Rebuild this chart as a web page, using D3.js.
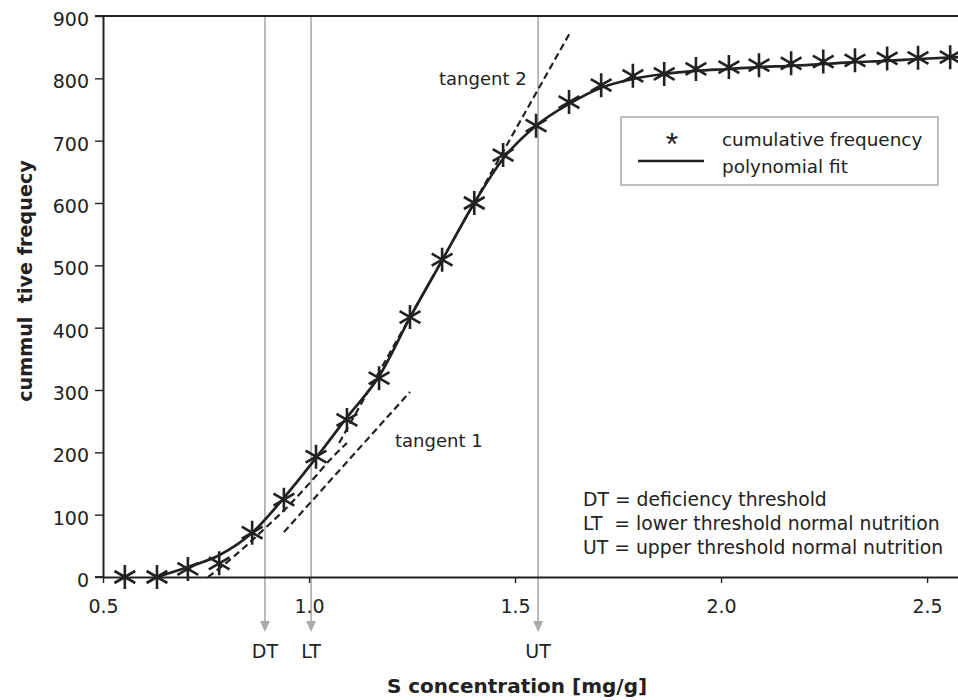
<!DOCTYPE html>
<html><head><meta charset="utf-8">
<script src="https://cdn.jsdelivr.net/npm/d3@7"></script>
<style>
body{margin:0;background:#fff;}
svg{display:block;font-family:"DejaVu Sans",sans-serif;}
</style></head>
<body><svg id="c" width="958" height="700"></svg>
<script>
// ---- data ----
const concX = [0.553,0.631,0.706,0.782,0.862,0.939,1.017,1.092,1.170,1.245,1.323,1.401,1.471,1.551,1.631,1.709,1.786,1.862,1.939,2.019,2.092,2.170,2.248,2.325,2.403,2.478,2.556];
const cumFreq = [0,0,13,22,71,124,193,252,319,417,509,600,677,724,762,789,804,807,815,818,821,824,827,829,832,833,834];
const fitX = [0.631,0.706,0.782,0.862,0.939,1.017,1.092,1.170,1.245,1.323,1.401,1.471,1.551,1.631,1.709,1.786,1.862,1.939,2.019,2.092,2.170,2.248,2.325,2.403,2.478,2.575];
const fitY = [0,16,35,71,127,191,256,322,416,508,600,671,724,759,785,799,807,812,815,818,820,823,826,828,831,834];
const tangent1 = [[0.939,72],[1.245,297]];
const tangent2 = [[1.073,215],[1.635,875]];
const lowerDashX = [0.755,0.816,0.888,0.947,1.002,1.051,1.092];
const lowerDashY = [0,32,75,112,151,188,215];
const thresholds = [{name:"DT",x:0.893},{name:"LT",x:1.005},{name:"UT",x:1.556}];
const yTicks = [0,100,200,300,400,500,600,700,800,900];
const xTicks = [0.5,1.0,1.5,2.0,2.5];
const legendItems = ["cumulative frequency","polynomial fit"];
const noteLines = ["DT = deficiency threshold","LT  = lower threshold normal nutrition","UT = upper threshold normal nutrition"];

const svg = d3.select("#c");
const ink = "#222";
const FONT = "DejaVu Sans, sans-serif";
const x = d3.scaleLinear().domain([0.5,2.575]).range([103,958]);
const y = d3.scaleLinear().domain([0,900]).range([577,16]);

// threshold lines with arrows
const thr = svg.append("g");
thresholds.forEach(t=>{
  const px = x(t.x);
  thr.append("line").attr("x1",px).attr("x2",px).attr("y1",y(900)).attr("y2",622)
    .attr("stroke","#aaa").attr("stroke-width",1.6);
  thr.append("path").attr("d",`M${px-5},621L${px+5},621L${px},632Z`).attr("fill","#aaa");
  thr.append("text").attr("x",px).attr("y",658).attr("text-anchor","middle")
    .attr("font-size",19).attr("fill",ink).text(t.name);
});

// axes
const ya = svg.append("g").attr("transform",`translate(${x(0.5)},0)`)
  .call(d3.axisLeft(y).tickValues(yTicks).tickSize(8).tickSizeOuter(0).tickPadding(6));
ya.selectAll("text").attr("font-size",19).attr("fill",ink).attr("font-family",FONT).attr("dy","0.5em");
ya.selectAll("line").attr("stroke",ink).attr("stroke-width",1.4);
ya.select(".domain").attr("stroke",ink).attr("stroke-width",2);

const xa = svg.append("g").attr("transform",`translate(0,${y(0)})`)
  .call(d3.axisBottom(x).tickValues(xTicks).tickFormat(d3.format(".1f")).tickSize(6).tickSizeOuter(0).tickPadding(17));
xa.selectAll("text").attr("font-size",19).attr("fill",ink).attr("font-family",FONT);
xa.selectAll("line").attr("stroke",ink).attr("stroke-width",1.4);
xa.select(".domain").attr("stroke",ink).attr("stroke-width",1.8);
svg.append("line").attr("x1",95).attr("x2",x(0.5)).attr("y1",y(0)).attr("y2",y(0)).attr("stroke",ink).attr("stroke-width",1.8);
// top frame line
svg.append("line").attr("x1",95).attr("x2",958).attr("y1",y(900)).attr("y2",y(900)).attr("stroke",ink).attr("stroke-width",1.8);

// dashed tangents
const dash = svg.append("g").attr("fill","none").attr("stroke",ink).attr("stroke-width",2.2).attr("stroke-dasharray","7,4");
const lineT = d3.line().x(d=>x(d[0])).y(d=>y(d[1]));
dash.append("path").attr("d",lineT(tangent1));
dash.append("path").attr("d",lineT(tangent2));
dash.append("path").attr("d",d3.line().curve(d3.curveMonotoneX).x((d,i)=>x(lowerDashX[i])).y(d=>y(d))(lowerDashY));

// polynomial fit
svg.append("path").attr("fill","none").attr("stroke",ink).attr("stroke-width",2.7)
  .attr("d",d3.line().curve(d3.curveMonotoneX).x((d,i)=>x(fitX[i])).y(d=>y(d))(fitY));

// asterisk markers
const star = {draw(ctx,size){const r=Math.sqrt(size);
  for(const a of [90,30,150]){const rad=a*Math.PI/180;const dx=r*Math.cos(rad),dy=r*Math.sin(rad);
    ctx.moveTo(-dx,-dy);ctx.lineTo(dx,dy);} }};
svg.append("g").selectAll("path").data(cumFreq).join("path")
  .attr("transform",(d,i)=>`translate(${x(concX[i])},${y(d)})`)
  .attr("d",d3.symbol().type(star).size(144))
  .attr("fill","none").attr("stroke",ink).attr("stroke-width",2.6);

// legend
const lg = svg.append("g");
lg.append("rect").attr("x",621).attr("y",117).attr("width",317).attr("height",68)
  .attr("fill","#fff").attr("stroke","#aaa").attr("stroke-width",1.5);
lg.append("text").attr("x",672).attr("y",155).attr("text-anchor","middle").attr("font-size",32)
  .attr("font-family","Liberation Sans, Arial, sans-serif").attr("fill",ink).text("*");
lg.append("line").attr("x1",638).attr("x2",704).attr("y1",161).attr("y2",161).attr("stroke",ink).attr("stroke-width",2.7);
lg.selectAll("text.li").data(legendItems).join("text").attr("class","li")
  .attr("x",722).attr("y",(d,i)=>146+i*27).attr("font-size",18.4).attr("fill",ink).text(d=>d);

// annotations
svg.append("text").attr("x",439).attr("y",85).attr("font-size",18).attr("fill",ink).text("tangent 2");
svg.append("text").attr("x",395).attr("y",447).attr("font-size",18).attr("fill",ink).text("tangent 1");
svg.selectAll("text.note").data(noteLines).join("text").attr("class","note")
  .attr("x",583).attr("y",(d,i)=>506+i*24).attr("font-size",18.8).attr("fill",ink)
  .style("white-space","pre").text(d=>d);

// axis titles
svg.append("text").attr("x",517).attr("y",693).attr("text-anchor","middle").attr("font-size",20)
  .attr("font-weight","bold").attr("fill",ink).text("S concentration [mg/g]");
svg.append("text").attr("transform","translate(32,281) rotate(-90)").attr("text-anchor","middle")
  .attr("font-size",19.2).attr("font-weight","bold").attr("fill",ink)
  .style("white-space","pre").text("cummul  tive frequecy");
</script></body></html>
